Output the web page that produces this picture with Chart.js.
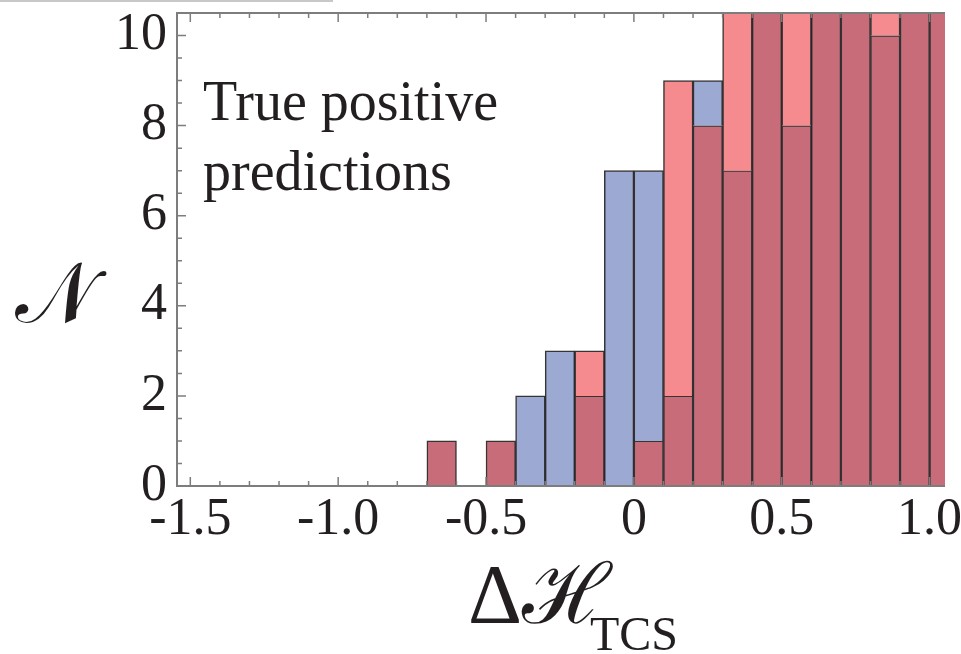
<!DOCTYPE html>
<html>
<head>
<meta charset="utf-8">
<script src="https://cdn.jsdelivr.net/npm/chart.js@4/dist/chart.umd.min.js"></script>
<style>
  html, body { margin: 0; padding: 0; background: #fff; }
</style>
</head>
<body>
<canvas id="myChart" width="961" height="654"></canvas>
<script>
  // histogram bins, width 0.1 (centres)
  const binCenters = [-0.65, -0.55, -0.45, -0.35, -0.25, -0.15, -0.05, 0.05, 0.15,
                      0.25, 0.35, 0.45, 0.55, 0.65, 0.75, 0.85, 0.95, 1.05];
  // counts per bin, tall bins run off the top of the frame
  const blueCounts = [1, 0, 1, 2, 3, 2, 7, 7, 2, 9, 7, 12, 8, 12, 12, 10, 12, 12];
  const redCounts  = [1, 0, 1, 0, 0, 3, 0, 1, 9, 8, 12, 12, 12, 12, 12, 12, 12, 12];

  const xTicks = [-1.5, -1.0, -0.5, 0, 0.5, 1.0];
  const xTickLabels = ['-1.5', '-1.0', '-0.5', '0', '0.5', '1.0'];
  const yTicks = [0, 2, 4, 6, 8, 10];

  const BLUE = '#9ca9d3';
  const PINK = '#f58b8f';
  const MAUVE = '#c86c7a';
  const EDGE = 'rgba(20, 16, 18, 0.85)';
  const SERIF = '"Liberation Serif", "DejaVu Serif", serif';

  // overlap of the two histograms + the part sticking out above it
  const overlapData = binCenters.map((x, i) => ({x: x, y: Math.min(blueCounts[i], redCounts[i])}));
  const excessData = binCenters.map((x, i) => {
    const lo = Math.min(blueCounts[i], redCounts[i]);
    const hi = Math.max(blueCounts[i], redCounts[i]);
    return {x: x, y: hi > lo ? [lo, hi] : null};
  });
  const excessColors = binCenters.map((x, i) => blueCounts[i] > redCounts[i] ? BLUE : PINK);

  const noEdgePadding = s => {
    s.paddingTop = 0; s.paddingBottom = 0;
    s.paddingLeft = 0; s.paddingRight = 0;
  };

  const framePlugin = {
    id: 'frame',
    afterDatasetsDraw(chart) {
      const {ctx, chartArea: a, scales: {x, y}} = chart;
      ctx.save();
      ctx.strokeStyle = '#7d7d7d';
      ctx.lineWidth = 2;
      ctx.beginPath();
      ctx.moveTo(a.right, a.top); ctx.lineTo(a.left, a.top);
      ctx.lineTo(a.left, a.bottom); ctx.lineTo(a.right, a.bottom);
      ctx.stroke();

      ctx.lineWidth = 1.5;
      ctx.beginPath();
      for (let k = -15; k <= 10; k++) {
        const px = x.getPixelForValue(k / 10);
        const len = k % 5 === 0 ? 9 : 5;
        ctx.moveTo(px, a.bottom); ctx.lineTo(px, a.bottom - len);
        ctx.moveTo(px, a.top); ctx.lineTo(px, a.top + len);
      }
      for (let k = 0; k <= 20; k++) {
        const py = y.getPixelForValue(k / 2);
        const len = k % 4 === 0 ? 9 : 5;
        ctx.moveTo(a.left, py); ctx.lineTo(a.left + len, py);
      }
      ctx.stroke();
      ctx.restore();
    },
    afterDraw(chart) {
      const ctx = chart.ctx;
      ctx.save();
      // faint rule left over at the top edge
      ctx.strokeStyle = '#c8c8c8';
      ctx.lineWidth = 2;
      ctx.beginPath(); ctx.moveTo(0, 1); ctx.lineTo(333, 1); ctx.stroke();

      ctx.fillStyle = '#231f20';
      ctx.textBaseline = 'alphabetic';
      ctx.textAlign = 'left';
      ctx.font = '56px ' + SERIF;
      ctx.fillText('True positive', 203, 120);
      ctx.fillText('predictions', 203, 190);

      ctx.font = '84px ' + SERIF;
      ctx.fillText('\u{1D4A9}', 15, 322);

      ctx.font = '84px ' + SERIF;
      ctx.fillText('\u0394\u210B', 468, 623);
      ctx.font = '48px ' + SERIF;
      ctx.fillText('TCS', 590, 650);
      ctx.restore();
    }
  };

  const ctx = document.getElementById('myChart').getContext('2d');

  const myChart = new Chart(ctx, {
    type: 'bar',
    data: {
      datasets: [{
        data: excessData,
        backgroundColor: excessColors,
        borderColor: EDGE,
        borderWidth: 1.5,
        borderSkipped: 'start',
        grouped: false,
        barPercentage: 1,
        categoryPercentage: 1,
      }, {
        data: overlapData,
        backgroundColor: MAUVE,
        borderColor: EDGE,
        borderWidth: 1.5,
        borderSkipped: 'start',
        grouped: false,
        barPercentage: 1,
        categoryPercentage: 1,
      }],
    },
    options: {
      responsive: false,
      animation: false,
      devicePixelRatio: 1,
      layout: { padding: { top: 13, right: 16, left: 0, bottom: 0 } },
      plugins: {
        legend: { display: false },
        tooltip: { enabled: false },
      },
      scales: {
        x: {
          type: 'linear',
          offset: false,
          min: -1.545,
          max: 1.052,
          afterBuildTicks: s => { s.ticks = xTicks.map(v => ({value: v})); },
          afterFit: s => { s.height = 168; noEdgePadding(s); },
          grid: { display: false, drawTicks: false },
          border: { display: false },
          ticks: {
            callback: (v, i) => xTickLabels[i],
            font: { family: SERIF, size: 52 },
            color: '#231f20',
            padding: 3,
            maxRotation: 0,
            autoSkip: false,
          },
        },
        y: {
          min: 0,
          max: 10.5,
          afterBuildTicks: s => { s.ticks = yTicks.map(v => ({value: v})); },
          afterFit: s => { s.width = 177; noEdgePadding(s); },
          grid: { display: false, drawTicks: false },
          border: { display: false },
          ticks: {
            font: { family: SERIF, size: 52 },
            color: '#231f20',
            padding: 10,
          },
        },
      },
    },
    plugins: [framePlugin],
  });
</script>
</body>
</html>
